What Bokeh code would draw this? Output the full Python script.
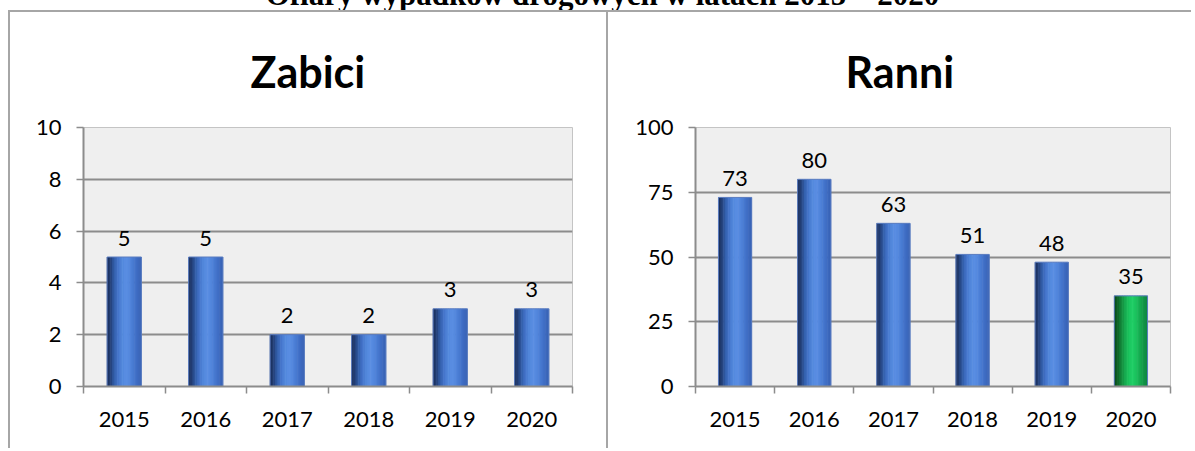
from bokeh.plotting import figure
from bokeh.models import ColumnDataSource, FixedTicker, Range1d, Div, Spacer
from bokeh.layouts import row, column
from bokeh.transform import dodge
from bokeh.core.properties import value
from bokeh.embed import file_html
from bokeh.resources import INLINE

# ---------------- data ----------------
years = [2015, 2016, 2017, 2018, 2019, 2020]
killed = [5, 5, 2, 2, 3, 3]
injured = [73, 80, 63, 51, 48, 35]
killed_ticks = [0, 2, 4, 6, 8, 10]
injured_ticks = [0, 25, 50, 75, 100]
main_title = "Ofiary wypadków drogowych w latach 2015 – 2020"
panel_titles = ["Zabici", "Ranni"]

# ---------------- styles ----------------
H = 438
FONT = "Lato"
GRID = "#8c8c8c"
FRAME = "2px solid #a6a6a6"
BLUE = ["#182a52", "#24417b", "#3460ad", "#4576cc", "#5288dc", "#5a8ee3",
        "#5286dc", "#4779d0", "#3e6bc2", "#3762b4"]
GREEN = ["#094617", "#0e6428", "#13893c", "#17ab4f", "#1bc45e", "#1fcf66",
         "#1bc15d", "#16aa50", "#129547", "#108540"]
N_STRIP = 20
BAR_W = 0.42


def interp(pal, t):
    pos = t * (len(pal) - 1)
    i = min(int(pos), len(pal) - 2)
    f = pos - i
    a = pal[i].lstrip("#")
    b = pal[i + 1].lstrip("#")
    ca = [int(a[k:k + 2], 16) for k in (0, 2, 4)]
    cb = [int(b[k:k + 2], 16) for k in (0, 2, 4)]
    c = [round(ca[k] + (cb[k] - ca[k]) * f) for k in range(3)]
    return "#%02x%02x%02x" % tuple(c)


def make_panel(width, vals, ticks, title, frame_left, frame_right, title_offset,
               highlight_last):
    p = figure(width=width, height=H, output_backend="svg", toolbar_location=None,
               x_range=Range1d(years[0] - 0.5, years[-1] + 0.5),
               y_range=Range1d(ticks[0], ticks[-1]),
               min_border_left=frame_left, min_border_right=width - frame_right,
               min_border_top=114, min_border_bottom=H - 374)
    p.background_fill_color = "#efefef"
    p.border_fill_color = "white"
    p.outline_line_color = "#c4c4c4"
    p.xgrid.visible = False
    p.ygrid.grid_line_color = GRID
    p.ygrid.grid_line_width = 2

    xa = p.below[0]
    ya = p.left[0]

    p.title.text = title
    p.title.align = "left"
    p.title.offset = title_offset
    p.title.standoff = 62
    p.title.text_font = FONT
    p.title.text_font_style = "bold"
    p.title.text_font_size = "43px"
    p.title.text_color = "black"

    src = {"year": years, "val": vals, "label": [str(v) for v in vals]}
    pals = [GREEN if (highlight_last and i == len(years) - 1) else BLUE
            for i in range(len(years))]
    sw = BAR_W / N_STRIP
    for k in range(N_STRIP):
        t = (k + 0.5) / N_STRIP
        src["c%d" % k] = [interp(pal, t) for pal in pals]
    source = ColumnDataSource(src)
    for k in range(N_STRIP):
        off = -BAR_W / 2 + (k + 0.5) * sw
        p.vbar(x=dodge("year", off), top="val", width=sw * 1.35, bottom=0,
               fill_color="c%d" % k, line_color=None, source=source)
    p.vbar(x="year", top="val", width=BAR_W, bottom=0, fill_color=None,
           line_color="#5a7cc0", line_width=1, source=source)
    p.text(x="year", y="val", text="label", source=source, text_align="center",
           text_baseline="alphabetic", y_offset=-19, text_font=value(FONT),
           text_font_size="22px", text_color="black")

    xa.ticker = FixedTicker(ticks=years,
                            minor_ticks=[y - 0.5 for y in years] + [years[-1] + 0.5])
    xa.major_tick_out = 0
    xa.major_tick_in = 0
    xa.minor_tick_out = 7
    xa.minor_tick_in = 0
    xa.minor_tick_line_color = GRID
    xa.minor_tick_line_width = 1.5
    xa.axis_line_color = GRID
    xa.axis_line_width = 2
    xa.major_label_text_font = FONT
    xa.major_label_text_font_size = "22px"
    xa.major_label_text_color = "black"
    xa.major_label_standoff = 18

    ya.ticker = FixedTicker(ticks=ticks, minor_ticks=[])
    ya.major_tick_out = 7
    ya.major_tick_in = 0
    ya.major_tick_line_color = GRID
    ya.major_tick_line_width = 1.5
    ya.axis_line_color = GRID
    ya.axis_line_width = 2
    ya.major_label_text_font = FONT
    ya.major_label_text_font_size = "22px"
    ya.major_label_text_color = "black"
    ya.major_label_standoff = 15

    p.styles = {"border-top": FRAME, "border-left": FRAME}
    return p


p1 = make_panel(598, killed, killed_ticks, panel_titles[0], 73, 562, 167, False)
p2 = make_panel(585, injured, injured_ticks, panel_titles[1], 87, 562, 150, True)

title_div = Div(
    text=('<div style="position:absolute; top:-26px; left:0px; width:1195px; '
          'white-space:nowrap; text-align:center;">%s</div>') % main_title,
    width=1195, height=11,
    styles={"font-family": "Liberation Serif", "font-weight": "bold",
            "font-size": "31px", "line-height": "31px", "color": "black",
            "overflow": "visible"})

charts = row(Spacer(width=8, height=H), p1, p2)
charts.styles = {"margin-top": "-11px"}
layout = column(title_div, charts)

open("out.html", "w").write(file_html(layout, INLINE))
